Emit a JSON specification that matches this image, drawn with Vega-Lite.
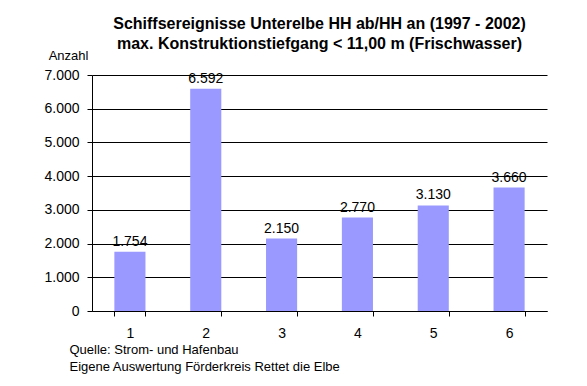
{
  "$schema": "https://vega.github.io/schema/vega-lite/v6.json",
  "width": 455,
  "height": 236,
  "autosize": {"type": "none"},
  "padding": {"left": 92, "top": 75, "right": 40, "bottom": 75},
  "background": "white",
  "config": {
    "font": "Liberation Sans",
    "view": {"stroke": null},
    "locale": {"number": {"decimal": ",", "thousands": ".", "grouping": [3], "currency": ["", " €"]}}
  },
  "title": {
    "text": ["Schiffsereignisse Unterelbe HH ab/HH an (1997 - 2002)", "max. Konstruktionstiefgang < 11,00 m (Frischwasser)"],
    "anchor": "middle",
    "offset": 0,
    "dy": 3,
    "fontSize": 16,
    "fontWeight": "bold",
    "font": "Liberation Sans",
    "lineHeight": 20,
    "color": "black"
  },
  "data": {
    "values": [
      {"kategorie": "1", "anzahl": 1754},
      {"kategorie": "2", "anzahl": 6592},
      {"kategorie": "3", "anzahl": 2150},
      {"kategorie": "4", "anzahl": 2770},
      {"kategorie": "5", "anzahl": 3130},
      {"kategorie": "6", "anzahl": 3660}
    ]
  },
  "encoding": {
    "x": {
      "field": "kategorie",
      "type": "nominal",
      "sort": null,
      "scale": {"paddingInner": 0.59, "paddingOuter": 0.295},
      "axis": {
        "title": ["Quelle: Strom- und Hafenbau", "Eigene Auswertung Förderkreis Rettet die Elbe"],
        "titleFont": "Liberation Sans",
        "titleFontSize": 13,
        "titleFontWeight": "normal",
        "titleColor": "black",
        "titleAnchor": "start",
        "titleAlign": "left",
        "titleBaseline": "top",
        "titleX": -23,
        "titleY": 32,
        "titleLineHeight": 17,
        "labelAngle": 0,
        "labelFontSize": 14,
        "labelColor": "black",
        "labelPadding": 10,
        "tickBand": "extent",
        "tickSize": 5,
        "tickColor": "black",
        "domainColor": "black",
        "grid": false
      }
    },
    "y": {
      "field": "anzahl",
      "type": "quantitative",
      "scale": {"domain": [0, 7000], "nice": false},
      "axis": {
        "values": [0, 1000, 2000, 3000, 4000, 5000, 6000, 7000],
        "format": ",d",
        "title": "Anzahl",
        "titleAngle": 0,
        "titleFont": "Liberation Sans",
        "titleFontSize": 13,
        "titleFontWeight": "normal",
        "titleColor": "black",
        "titleAlign": "center",
        "titleBaseline": "middle",
        "titleX": -24,
        "titleY": -20,
        "labelFontSize": 14,
        "labelColor": "black",
        "labelPadding": 8,
        "tickSize": 5,
        "tickColor": "black",
        "domainColor": "black",
        "grid": true,
        "gridColor": "black",
        "gridOpacity": 1
      }
    }
  },
  "layer": [
    {"mark": {"type": "bar", "color": "#9999ff"}},
    {
      "mark": {"type": "text", "baseline": "bottom", "dy": -3, "fontSize": 14, "color": "black", "font": "Liberation Sans"},
      "encoding": {"text": {"field": "anzahl", "type": "quantitative", "format": ",d"}}
    }
  ]
}
